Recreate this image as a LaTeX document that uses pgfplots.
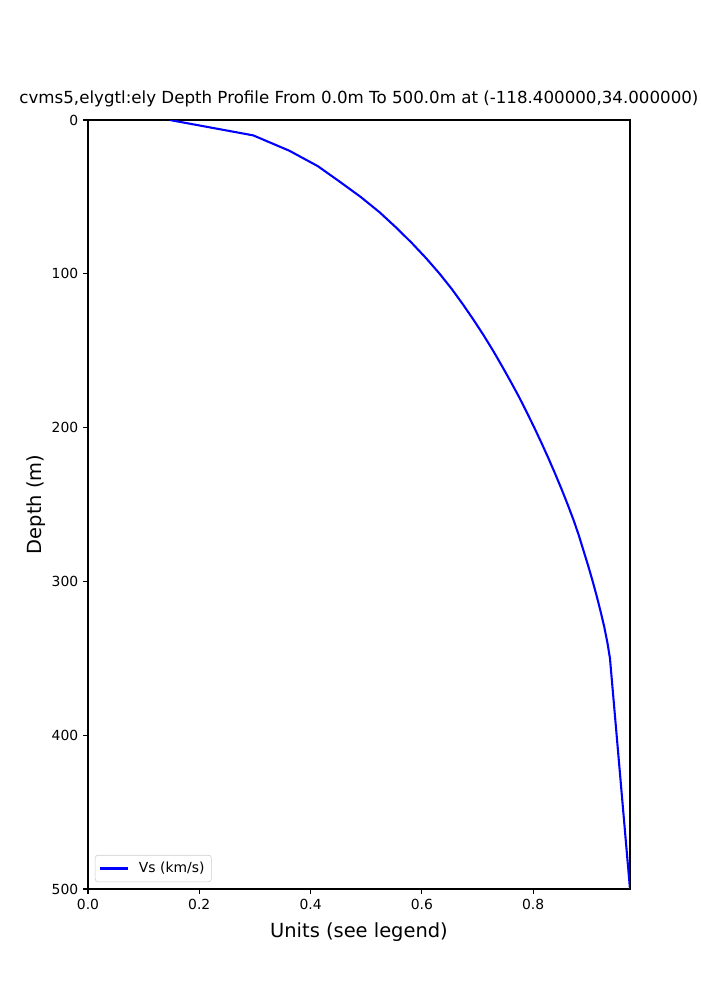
\documentclass[border=0pt]{standalone}
\usepackage{pgfplots}
\pgfplotsset{compat=1.18}
\usepackage{fontspec}
\setmainfont{DejaVu Sans}
\begin{document}
\begin{tikzpicture}
\useasboundingbox (-63.36pt,-79.92pt) rectangle (440.64pt,640.08pt);
\begin{axis}[
  at={(0,0)}, anchor=south west,
  scale only axis, width=390.24pt, height=553.68pt,
  xmin=0, xmax=0.974, ymin=0, ymax=500,
  y dir=reverse,
  xtick={0,0.2,0.4,0.6,0.8}, ytick={0,100,200,300,400,500},
  xticklabel style={/pgf/number format/.cd, fixed, fixed zerofill, precision=1},
  /pgf/number format/assume math mode=true,
  tick label style={font=\fontsize{10}{12}\selectfont},
  xtick pos=bottom, ytick pos=left,
  tick align=outside, major tick length=3.5pt,
  every tick/.style={black, line width=0.8pt},
  axis line style={line width=0.8pt},
  title={cvms5,elygtl:ely Depth Profile From 0.0m To 500.0m at (-118.400000,34.000000)},
  title style={font=\fontsize{12}{14}\selectfont, at={(axis description cs:0.5,1)}, anchor=base, yshift=6pt},
  xlabel={Units (see legend)},
  xlabel style={font=\fontsize{14}{16}\selectfont, at={(axis description cs:0.5,0)}, anchor=base, yshift=-35pt},
  ylabel={Depth (m)},
  ylabel style={font=\fontsize{14}{16}\selectfont, at={(axis description cs:-0.0849,0.5)}, anchor=base, rotate=0},
  legend style={at={(axis description cs:0,0)}, anchor=south west, xshift=5pt, yshift=5pt,
    font=\fontsize{10}{12}\selectfont, draw=black!20, rounded corners=2pt, fill=white, inner xsep=3pt, inner ysep=3pt},
  legend cell align=left,
  legend image code/.code={\draw[#1] (0pt,0pt) -- (20pt,0pt); \path (25pt,0pt);},
]
\addplot[color=blue, line width=1.5pt] coordinates {
(0.147,0) (0.297,10) (0.362,20) (0.413,30) (0.452,40) (0.490,50) (0.524,60)
(0.554,70) (0.582,80) (0.608,90) (0.632,100) (0.654,110) (0.674,120) (0.693,130)
(0.711,140) (0.728,150) (0.744,160) (0.7595,170) (0.7745,180) (0.7885,190) (0.802,200)
(0.815,210) (0.8275,220) (0.8395,230) (0.851,240) (0.862,250) (0.8725,260) (0.882,270)
(0.8905,280) (0.899,290) (0.907,300) (0.9145,310) (0.9215,320) (0.928,330) (0.9335,340)
(0.938,350) (0.974,500)
};
\addlegendentry{Vs (km/s)}
\end{axis}
\end{tikzpicture}
\end{document}
